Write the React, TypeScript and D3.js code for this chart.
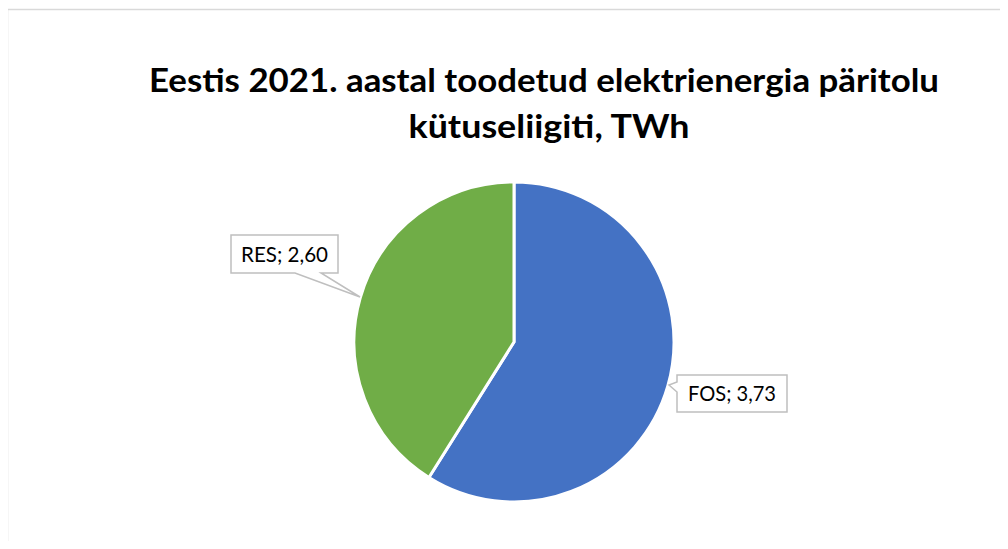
import React from "react";
import * as d3 from "d3";

const categories = ["FOS", "RES"];
const values = [3.73, 2.6];
const valueLabels = ["3,73", "2,60"];
const colors = ["#4472C4", "#70AD47"];
const titleLines = ["Eestis 2021. aastal toodetud elektrienergia päritolu", "kütuseliigiti, TWh"];

const W = 1008;
const H = 549;
const cx = 514;
const cy = 342;
const R = 160;

export default function App() {
  const data = categories.map((c, i) => ({ c, v: values[i], lab: valueLabels[i], col: colors[i] }));
  const pie = d3.pie<any>().value((d) => d.v).sort(null);
  const arcs = pie(data);
  const arc = d3.arc<any>().innerRadius(0).outerRadius(R);

  const boxes = [
    { x: 677, y: 375, w: 110, h: 37, side: "left", tl: 88 },
    { x: 231, y: 235, w: 107, h: 38, side: "bottom", tl: 87 },
  ];

  return (
    <div style={{ margin: -8 }}>
      <svg width={W} height={H} style={{ display: "block" }}>
        <rect x={0} y={0} width={W} height={H} fill="#fff" />
        <line x1={7.5} y1={9.5} x2={W} y2={9.5} stroke="#d9d9d9" strokeWidth={1.5} />
        <line x1={7.5} y1={9.5} x2={7.5} y2={H} stroke="#d9d9d9" strokeWidth={1.5} />
        <g fontFamily="Lato, 'Open Sans', sans-serif" fontWeight={700} fill="#000" textAnchor="middle">
          <text x={544} y={92} fontSize={32} textLength={790} lengthAdjust="spacingAndGlyphs">{titleLines[0]}</text>
          <text x={549} y={138} fontSize={32} textLength={281} lengthAdjust="spacingAndGlyphs">{titleLines[1]}</text>
        </g>
        <g transform={`translate(${cx},${cy})`}>
          {arcs.map((a, i) => (
            <path key={i} d={arc(a) || ""} fill={data[i].col} stroke="#fff" strokeWidth={3} strokeLinejoin="round" />
          ))}
        </g>
        {arcs.map((a, i) => {
          const b = boxes[i];
          let path = "";
          if (b.side === "left") {
            const tx = 669, ty = 385;
            path = `M${b.x},${b.y} H${b.x + b.w} V${b.y + b.h} H${b.x} V${392} L${tx},${ty} L${b.x},${382} Z`;
          } else {
            const tx = 360, ty = 297;
            path = `M${b.x},${b.y} H${b.x + b.w} V${b.y + b.h} H${321} L${tx},${ty} L${295},${b.y + b.h} H${b.x} Z`;
          }
          return (
            <g key={i}>
              <path d={path} fill="#fff" stroke="#bfbfbf" strokeWidth={1.5} />
              <text x={b.x + b.w / 2} y={b.y + b.h / 2 + 7.5} textAnchor="middle" fontFamily="Lato, 'Open Sans', sans-serif" fontSize={21} fill="#000" textLength={b.tl} lengthAdjust="spacingAndGlyphs">
                {`${data[i].c}; ${data[i].lab}`}
              </text>
            </g>
          );
        })}
      </svg>
    </div>
  );
}
